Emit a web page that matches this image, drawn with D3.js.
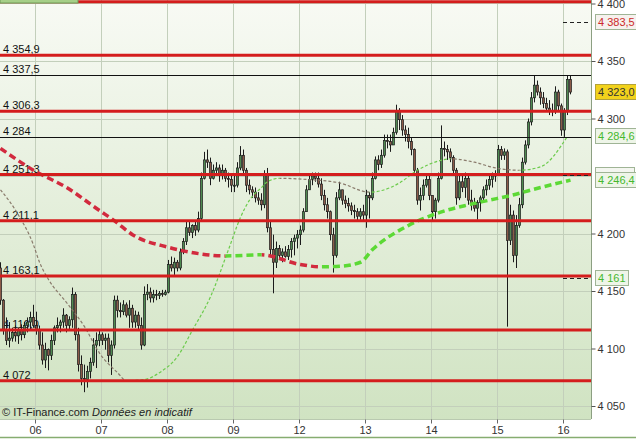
<!DOCTYPE html>
<html>
<head>
<meta charset="utf-8">
<script src="https://cdn.jsdelivr.net/npm/d3@7"></script>
<style>
body { margin: 0; background: #fff; }
svg { display: block; font-family: "Liberation Sans", Arial, sans-serif; font-size: 11px; }
</style>
</head>
<body>
<svg width="636" height="439"></svg>
<script>
// intraday bars, 22 per session (open = previous close)
var firstOpen = 4170;
var highs = [
  4175,4143,4127,4123,4118,4120,4118,4121,4123,4127,4132,4138,
  4132,4120,4114,4105,4100,4112,4120,4127,4125,4135,4130,4128,4153,4149,4118,4094,4086,4085,4092,4109,4114,4116,
  4114,4113,4113,4107,4146,4146,4140,4142,4140,4142,4138,4133,4132,4127,4154,4156,4153,4151,4151,4150,4151,4151,
  4177,4180,4179,4177,4187,4196,4210,4210,4208,4210,4219,4253,4271,4273,4266,4260,4262,4260,4260,4257,4253,4251,
  4250,4262,4276,4273,4257,4247,4241,4240,4236,4235,4255,4257,4210,4199,4193,4190,4187,4189,4190,4196,4199,4203,
  4207,4222,4242,4250,4253,4253,4253,4248,4238,4231,4220,4205,4236,4245,4238,4233,4231,4227,4225,4222,4222,4225,
  4238,4236,4253,4267,4268,4273,4286,4286,4286,4292,4312,4309,4303,4294,4292,4283,4274,4257,4240,4247,4251,4250,
  4233,4231,4253,4294,4280,4277,4274,4268,4257,4251,4250,4253,4251,4238,4231,4229,4233,4241,4247,4250,4253,4255,
  4277,4276,4274,4273,4225,4220,4216,4231,4266,4281,4300,4323,4337.5,4333,4327,4323,4318,4316,4313,4328,4325,4313,
  4309,4337,4337
];
var lows = [
  4138,4112,4103,4101,4106,4106,4104,4107,4109,4114,4116,4118,
  4112,4099,4086,4083,4081,4090,4103,4114,4114,4118,4114,4116,4118,4107,4080,4068,4062,4066,4074,4085,4083,4102,
  4103,4099,4088,4077,4100,4127,4127,4129,4127,4118,4118,4118,4116,4099,4102,4142,4140,4140,4142,4143,4145,4146,
  4148,4167,4164,4167,4168,4182,4190,4198,4196,4198,4201,4210,4247,4257,4242,4247,4251,4245,4247,4245,4240,4236,
  4236,4240,4255,4251,4236,4234,4231,4227,4225,4220,4222,4201,4180,4148,4170,4177,4175,4179,4177,4179,4181,4187,
  4190,4201,4219,4238,4242,4245,4240,4229,4220,4213,4194,4166,4179,4229,4225,4222,4219,4216,4213,4210,4212,4210,
  4205,4213,4229,4247,4255,4257,4266,4274,4271,4277,4286,4290,4285,4280,4274,4268,4251,4225,4220,4229,4240,4229,
  4210,4213,4227,4247,4267,4264,4262,4251,4225,4229,4236,4231,4225,4220,4219,4212,4219,4227,4233,4238,4240,4245,
  4251,4264,4264,4119,4190,4175,4170,4205,4222,4260,4274,4294,4314,4320,4312,4309,4306,4303,4302,4304,4307,4285,
  4284,4303,4321
];
var closes = [
  4142,4116,4107,4109,4114,4111,4116,4112,4120,4123,4127,4120,
  4116,4103,4090,4099,4094,4107,4118,4120,4123,4129,4120,4125,4147,4112,4086,4074,4073,4080,4088,4103,4107,4112,
  4107,4109,4094,4103,4142,4133,4132,4138,4129,4135,4123,4129,4120,4103,4147,4149,4144,4147,4146,4148,4147,4149,
  4173,4170,4175,4170,4184,4193,4205,4201,4207,4203,4213,4248,4264,4262,4248,4255,4257,4251,4255,4248,4247,4242,
  4242,4257,4268,4255,4242,4238,4236,4231,4229,4225,4251,4205,4186,4175,4187,4181,4184,4180,4186,4193,4196,4199,
  4203,4219,4238,4247,4250,4248,4243,4233,4225,4219,4199,4181,4231,4238,4229,4226,4224,4220,4219,4215,4219,4216,
  4233,4231,4248,4264,4260,4268,4281,4280,4277,4288,4306,4299,4290,4286,4280,4273,4255,4229,4233,4242,4247,4233,
  4219,4229,4248,4274,4273,4271,4266,4255,4231,4245,4240,4248,4229,4225,4222,4227,4231,4238,4242,4247,4250,4251,
  4273,4268,4271,4194,4216,4181,4207,4225,4262,4277,4297,4318,4329,4323,4318,4313,4309,4307,4306,4323,4311,4290,
  4306,4334,4323
];

// sessions
var dayLabels = ["06", "07", "08", "09", "12", "13", "14", "15", "16"];
var dayStart = [12, 34, 56, 78, 100, 122, 144, 166, 188];

// moving averages, read at some bars
var slowIdx = [0, 11, 22, 33, 38, 44, 56, 66, 75, 87, 100, 107, 113, 120, 124, 136, 146, 156, 163, 170, 180, 190];
var slowMa = [4274, 4255, 4240, 4220, 4211, 4199, 4188, 4182.5, 4180.5, 4181.5, 4173, 4171, 4171.5, 4175, 4186, 4207, 4218, 4225, 4229, 4233, 4240, 4246.4];
var fastIdx = [0, 6, 11, 13, 16, 22, 28, 33, 39, 42, 48, 53, 59, 64, 70, 76, 80, 83, 87, 89, 93, 102, 113, 123, 130, 133, 139, 146, 150, 158, 165, 173, 180, 189];
var fastMa = [4238, 4216, 4190, 4175, 4160, 4140, 4119, 4096, 4079, 4072, 4073, 4079, 4093, 4116, 4145, 4186, 4214, 4229, 4240, 4245, 4248, 4247, 4244, 4236, 4240, 4244, 4255, 4263, 4265, 4262, 4257, 4255, 4258, 4284.6];

// support / resistance levels
var redLevels = [4401.5, 4354.9, 4306.3, 4251.3, 4211.1, 4163.1, 4116.0, 4072];
var redLabels = ["", "4 354,9", "4 306,3", "4 251,3", "4 211,1", "4 163,1", "4 116,0", "4 072"];
var blackLevels = [4337.5, 4284];
var blackLabels = ["4 337,5", "4 284"];
var targetLevels = [4383.5, 4251.3, 4161];

// boxes on the price scale (the 4 251,3 box sits hidden under 4 246,4)
var hiddenBox = 4251.3;
var boxValues = [4383.5, 4323.0, 4284.6, 4246.4, 4161];
var boxLabels = ["4 383,5", "4 323,0", "4 284,6", "4 246,4", "4 161"];
var boxKinds = ["red", "last", "green", "green", "green"];

var gridTicks = [4050, 4100, 4150, 4200, 4250, 4300, 4350, 4400];
// 4 250 is covered by the value boxes, so it gets no label
var axisTicks = [4050, 4100, 4150, 4200, 4300, 4350, 4400];

var svg = d3.select("svg"),
    plotW = 591, plotH = 419;

var x = d3.scaleLinear().domain([0, 1]).range([0.5, 3.5]);
var y = d3.scaleLinear().domain([4050, 4350]).range([406, 61]);

var fr = d3.formatLocale({decimal: ",", thousands: " ", grouping: [3], currency: ["", ""]});
var fmtTick = fr.format(",.0f");

var defs = svg.append("defs");
var grad = defs.append("linearGradient").attr("id", "bg").attr("x1", 0).attr("y1", 0).attr("x2", 0).attr("y2", 1);
grad.append("stop").attr("offset", "0%").attr("stop-color", "#f8faf4");
grad.append("stop").attr("offset", "100%").attr("stop-color", "#d0e3c2");

defs.append("clipPath").attr("id", "plotclip")
  .append("rect").attr("width", plotW).attr("height", plotH);

svg.append("rect").attr("width", plotW).attr("height", plotH).attr("fill", "url(#bg)");

// grid
var grid = svg.append("g").attr("stroke", "#c3cfbb").attr("stroke-width", 1);
grid.selectAll("line.h").data(gridTicks).enter().append("line")
    .attr("x1", 0).attr("x2", plotW)
    .attr("y1", function(d) { return Math.round(y(d)) + 0.5; })
    .attr("y2", function(d) { return Math.round(y(d)) + 0.5; });
grid.selectAll("line.v").data(dayStart).enter().append("line")
    .attr("y1", 0).attr("y2", plotH)
    .attr("x1", function(d) { return Math.round(x(d - 0.5)) + 0.5; })
    .attr("x2", function(d) { return Math.round(x(d - 0.5)) + 0.5; });

// level labels (under the candles)
var labs = svg.append("g").attr("fill", "#111");
labs.selectAll("text.r").data(redLevels).enter().append("text")
    .attr("x", 3).attr("y", function(d) { return y(d) - 2; })
    .text(function(d, i) { return redLabels[i]; });
labs.selectAll("text.b").data(blackLevels).enter().append("text")
    .attr("x", 3).attr("y", function(d) { return y(d) - 2; })
    .text(function(d, i) { return blackLabels[i]; });

var plot = svg.append("g").attr("clip-path", "url(#plotclip)");

// candles
var candles = plot.append("g");
closes.forEach(function(c, i) {
  var o = i == 0 ? firstOpen : closes[i - 1];
  var up = c >= o;
  var cx = x(i);
  candles.append("line")
      .attr("x1", cx).attr("x2", cx)
      .attr("y1", y(highs[i])).attr("y2", y(lows[i]))
      .attr("stroke", "#1b1b1b").attr("stroke-width", 1);
  var top = y(Math.max(o, c)), bot = y(Math.min(o, c));
  candles.append("rect")
      .attr("x", cx - 1).attr("width", 2)
      .attr("y", top).attr("height", Math.max(1, bot - top))
      .attr("fill", up ? "#4e8a50" : "#8b5a48")
      .attr("stroke", "#1b1b1b").attr("stroke-width", 0.7);
});

// moving averages: green while rising, red/grey while falling
function drawMa(idx, vals, name, upCol, downCol, width, dash) {
  var upClip = defs.append("clipPath").attr("id", name + "up");
  var dnClip = defs.append("clipPath").attr("id", name + "dn");
  for (var k = 0; k < idx.length - 1; k++) {
    var x0 = k == 0 ? -10 : x(idx[k]);
    var x1 = k == idx.length - 2 ? plotW : x(idx[k + 1]);
    (vals[k + 1] > vals[k] ? upClip : dnClip).append("rect")
        .attr("x", x0).attr("width", x1 - x0).attr("y", 0).attr("height", plotH);
  }
  var line = d3.line()
      .x(function(d, i) { return x(idx[i]); })
      .y(function(d) { return y(d); })
      .curve(d3.curveMonotoneX);
  [["dn", downCol], ["up", upCol]].forEach(function(p) {
    plot.append("path")
        .datum(vals)
        .attr("clip-path", "url(#" + name + p[0] + ")")
        .attr("fill", "none")
        .attr("stroke", p[1])
        .attr("stroke-width", width)
        .attr("stroke-dasharray", dash)
        .attr("d", line);
  });
}
drawMa(fastIdx, fastMa, "fast", "#6ccb4c", "#8a7b6c", 1.2, "3,2");
drawMa(slowIdx, slowMa, "slow", "#5cd935", "#d22a3e", 3.5, "7,4");

// levels
svg.selectAll("line.red").data(redLevels).enter().append("line")
    .attr("x1", 0).attr("x2", plotW)
    .attr("y1", function(d) { return y(d); }).attr("y2", function(d) { return y(d); })
    .attr("stroke", "#d41d1d").attr("stroke-width", 3);
svg.selectAll("line.blk").data(blackLevels).enter().append("line")
    .attr("x1", 0).attr("x2", plotW)
    .attr("y1", function(d) { return Math.round(y(d)) + 0.5; })
    .attr("y2", function(d) { return Math.round(y(d)) + 0.5; })
    .attr("stroke", "#111").attr("stroke-width", 1);

// label tab of the top level, mostly off the chart
svg.append("rect").attr("x", 0).attr("y", -12).attr("width", 78).attr("height", 15)
    .attr("fill", "#a6cf88").attr("stroke", "#6f9a57");

// target dashes on the last session
svg.selectAll("line.tg").data(targetLevels).enter().append("line")
    .attr("x1", x(dayStart[dayStart.length - 1] - 0.5)).attr("x2", plotW)
    .attr("y1", function(d) { return Math.round(y(d)) + 0.5; })
    .attr("y2", function(d) { return Math.round(y(d)) + 0.5; })
    .attr("stroke", "#222").attr("stroke-dasharray", "4,3");

// frame
svg.append("line").attr("x1", plotW + 0.5).attr("x2", plotW + 0.5).attr("y1", 0).attr("y2", plotH)
    .attr("stroke", "#8c9f82");
svg.append("line").attr("x1", 0).attr("x2", plotW).attr("y1", plotH + 0.5).attr("y2", plotH + 0.5)
    .attr("stroke", "#b9c9b0");

// right price axis
var yAxis = svg.append("g")
    .attr("transform", "translate(" + (plotW + 0.5) + ",0)")
    .call(d3.axisRight(y).tickValues(axisTicks).tickSize(4).tickPadding(2).tickFormat(fmtTick));
yAxis.select(".domain").remove();
yAxis.selectAll("line").attr("stroke", "#555");
yAxis.selectAll("text").attr("fill", "#333").style("font-size", "11px")
    .style("font-family", '"Liberation Sans", Arial, sans-serif');

// bottom day axis
var xAxis = svg.append("g").attr("transform", "translate(0," + (plotH + 0.5) + ")");
dayStart.forEach(function(d, i) {
  var px = Math.round(x(d - 0.5)) + 0.5;
  xAxis.append("line").attr("x1", px).attr("x2", px).attr("y1", 0).attr("y2", 4).attr("stroke", "#666");
  xAxis.append("text").attr("x", px).attr("y", 14).attr("text-anchor", "middle")
      .attr("fill", "#333").text(dayLabels[i]);
});
svg.append("line").attr("x1", 0).attr("x2", 636).attr("y1", 437.5).attr("y2", 437.5)
    .attr("stroke", "#86ad70").attr("stroke-width", 1.5);

// copyright
var cp = svg.append("text").attr("x", 2).attr("y", 416).attr("fill", "#222");
cp.append("tspan").text("\u00a9 IT-Finance.com  ");
cp.append("tspan").attr("font-style", "italic").text("Donn\u00e9es en indicatif");

// value boxes
var boxStyle = {
  red:   {fill: "#f6f1ee", stroke: "#9fb495", text: "#cc2a2a"},
  last:  {fill: "#f2d21c", stroke: "#b3a23a", text: "#333"},
  green: {fill: "#eef5e8", stroke: "#9fb495", text: "#45b82e"}
};
svg.append("rect").attr("x", 595.5).attr("y", Math.round(y(hiddenBox)) - 7.5)
    .attr("width", 39).attr("height", 15)
    .attr("fill", "#f4f6f0").attr("stroke", "#9fb495");
boxValues.forEach(function(v, i) {
  var st = boxStyle[boxKinds[i]];
  var g = svg.append("g").attr("transform", "translate(595," + Math.round(y(v)) + ")");
  var r = g.append("rect").attr("x", 0.5).attr("y", -7.5).attr("height", 15)
      .attr("fill", st.fill).attr("stroke", st.stroke);
  var t = g.append("text").attr("x", 3).attr("y", 4).attr("fill", st.text).text(boxLabels[i]);
  r.attr("width", Math.ceil(t.node().getComputedTextLength()) + 5);
});
</script>
</body>
</html>
